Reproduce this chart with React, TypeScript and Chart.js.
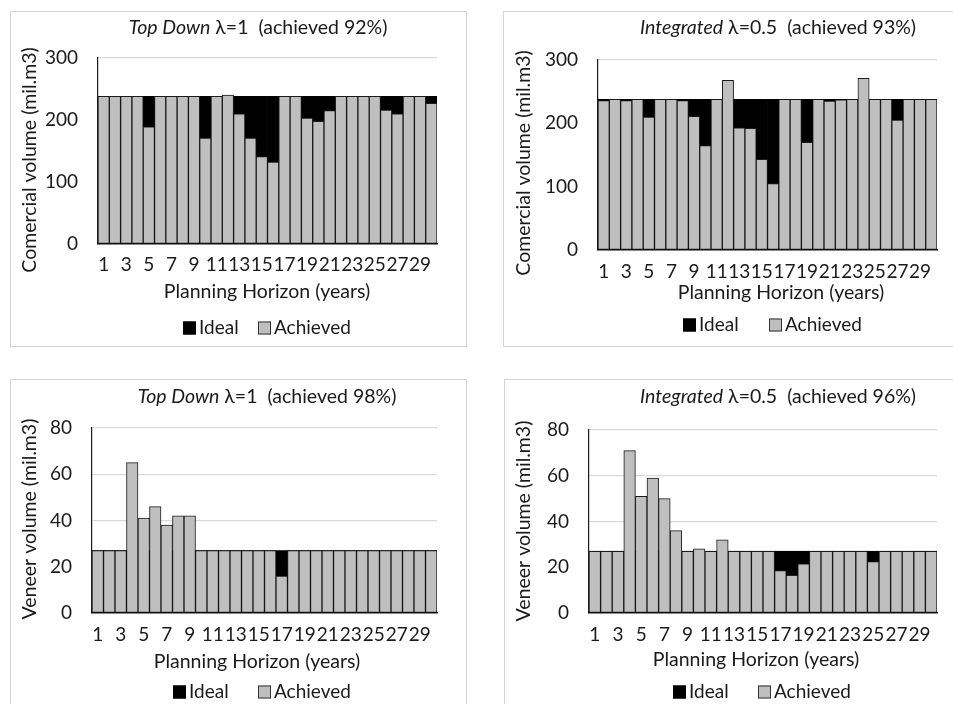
import React, { useEffect, useRef } from 'react';
import { Chart, registerables } from 'chart.js';

Chart.register(...registerables);

const years = ['1','2','3','4','5','6','7','8','9','10','11','12','13','14','15','16','17','18','19','20','21','22','23','24','25','26','27','28','29','30'];

const commercialTopDownIdeal = [238,238,238,238,238,238,238,238,238,238,238,238,238,238,238,238,238,238,238,238,238,238,238,238,238,238,238,238,238,238];
const commercialTopDownAchieved = [238,238,238,238,189,238,238,238,238,171,238,240,210,171,141,132,238,238,203,198,215,238,238,238,238,216,210,238,238,227];

const commercialIntegratedIdeal = [238,238,238,238,238,238,238,238,238,238,238,238,238,238,238,238,238,238,238,238,238,238,238,238,238,238,238,238,238,238];
const commercialIntegratedAchieved = [236,238,236,238,210,238,238,236,211,165,238,268,193,192,143,105,238,238,170,238,235,237,238,271,238,238,205,238,238,238];

const veneerTopDownIdeal = [27,27,27,27,27,27,27,27,27,27,27,27,27,27,27,27,27,27,27,27,27,27,27,27,27,27,27,27,27,27];
const veneerTopDownAchieved = [27,27,27,65,41,46,38,42,42,27,27,27,27,27,27,27,16,27,27,27,27,27,27,27,27,27,27,27,27,27];

const veneerIntegratedIdeal = [27,27,27,27,27,27,27,27,27,27,27,27,27,27,27,27,27,27,27,27,27,27,27,27,27,27,27,27,27,27];
const veneerIntegratedAchieved = [27,27,27,71,51,59,50,36,27,28,27,32,27,27,27,27,18.5,16.5,21.5,27,27,27,27,27,22.5,27,27,27,27,27];

const seriesNames = ['Ideal', 'Achieved'];
const FONT = 'Lato, "Open Sans", sans-serif';
const TEXT = '#1a1a1a';
const TITLE_SIZE = 19.5;
const AXIS_TITLE_SIZE = 19.5;
const LEGEND_SIZE = 19;
const TICK_SIZE = 19;

type Panel = {
  key: string;
  box: { x: number; y: number; w: number; h: number };
  canvas: { x: number; y: number; w: number; h: number };
  plot: { l: number; r: number; t: number; b: number };
  yMax: number;
  yStep: number;
  yTitle: string;
  titleItalic: string;
  titleRest: string;
  titleX: number;
  titleY: number;
  yTitleX: number;
  yTitleY: number;
  xTitleX: number;
  xTitleY: number;
  legendY: number;
  leg1X: number;
  leg2X: number;
  xTickPad: number;
  ideal: number[];
  achieved: number[];
};

const panels: Panel[] = [
  {
    key: 'tl',
    box: { x: 10, y: 11, w: 457, h: 336 },
    canvas: { x: 10, y: 11, w: 457, h: 336 },
    plot: { l: 98, r: 437, t: 58, b: 244 },
    yMax: 300, yStep: 100,
    yTitle: 'Comercial volume (mil.m3)',
    titleItalic: 'Top Down', titleRest: ' λ=1  (achieved 92%)',
    titleX: 258, titleY: 28,
    yTitleX: 30, yTitleY: 160,
    xTitleX: 267, xTitleY: 292,
    legendY: 328, leg1X: 183, leg2X: 258,
    xTickPad: 9,
    ideal: commercialTopDownIdeal, achieved: commercialTopDownAchieved,
  },
  {
    key: 'tr',
    box: { x: 503, y: 11, w: 470, h: 336 },
    canvas: { x: 503, y: 11, w: 450, h: 336 },
    plot: { l: 598, r: 937, t: 60, b: 250 },
    yMax: 300, yStep: 100,
    yTitle: 'Comercial volume (mil.m3)',
    titleItalic: 'Integrated', titleRest: ' λ=0.5  (achieved 93%)',
    titleX: 778, titleY: 28,
    yTitleX: 524, yTitleY: 163,
    xTitleX: 781, xTitleY: 293,
    legendY: 325, leg1X: 683, leg2X: 769,
    xTickPad: 10,
    ideal: commercialIntegratedIdeal, achieved: commercialIntegratedAchieved,
  },
  {
    key: 'bl',
    box: { x: 10, y: 379, w: 457, h: 360 },
    canvas: { x: 10, y: 379, w: 457, h: 325 },
    plot: { l: 92, r: 437, t: 428, b: 613 },
    yMax: 80, yStep: 20,
    yTitle: 'Veneer volume (mil.m3)',
    titleItalic: 'Top Down', titleRest: ' λ=1  (achieved 98%)',
    titleX: 267, titleY: 397,
    yTitleX: 30, yTitleY: 519,
    xTitleX: 257, xTitleY: 662,
    legendY: 692, leg1X: 173, leg2X: 258,
    xTickPad: 10,
    ideal: veneerTopDownIdeal, achieved: veneerTopDownAchieved,
  },
  {
    key: 'br',
    box: { x: 504, y: 379, w: 470, h: 360 },
    canvas: { x: 504, y: 379, w: 449, h: 325 },
    plot: { l: 589, r: 937, t: 430, b: 613 },
    yMax: 80, yStep: 20,
    yTitle: 'Veneer volume (mil.m3)',
    titleItalic: 'Integrated', titleRest: ' λ=0.5  (achieved 96%)',
    titleX: 778, titleY: 397,
    yTitleX: 524, yTitleY: 521,
    xTitleX: 756, xTitleY: 660,
    legendY: 692, leg1X: 673, leg2X: 758,
    xTickPad: 10,
    ideal: veneerIntegratedIdeal, achieved: veneerIntegratedAchieved,
  },
];

function ChartPanel({ p }: { p: Panel }) {
  const ref = useRef<HTMLCanvasElement | null>(null);
  useEffect(() => {
    if (!ref.current) return;
    const ox = p.canvas.x;
    const oy = p.canvas.y;
    const decor = {
      id: 'decor_' + p.key,
      afterDraw(chart: any) {
        const ctx = chart.ctx as CanvasRenderingContext2D;
        ctx.save();
        ctx.fillStyle = TEXT;
        ctx.textBaseline = 'middle';
        // title: italic part + normal part
        const fItal = 'italic ' + TITLE_SIZE + 'px ' + FONT;
        const fNorm = TITLE_SIZE + 'px ' + FONT;
        ctx.font = fItal;
        const w1 = ctx.measureText(p.titleItalic).width;
        ctx.font = fNorm;
        const w2 = ctx.measureText(p.titleRest).width;
        const tx = p.titleX - ox - (w1 + w2) / 2;
        ctx.textAlign = 'left';
        ctx.font = fItal;
        ctx.fillText(p.titleItalic, tx, p.titleY - oy);
        ctx.font = fNorm;
        ctx.fillText(p.titleRest, tx + w1, p.titleY - oy);
        // x axis title
        ctx.textAlign = 'center';
        ctx.font = AXIS_TITLE_SIZE + 'px ' + FONT;
        ctx.fillText('Planning Horizon (years)', p.xTitleX - ox, p.xTitleY - oy);
        // y axis title
        ctx.save();
        ctx.translate(p.yTitleX - ox, p.yTitleY - oy);
        ctx.rotate(-Math.PI / 2);
        ctx.fillText(p.yTitle, 0, 0);
        ctx.restore();
        // legend
        const sq = 13;
        const ly = p.legendY - oy;
        const items = [
          { x: p.leg1X - ox, fill: '#000000', stroke: '#000000', label: chart.data.datasets[0].label },
          { x: p.leg2X - ox, fill: '#bfbfbf', stroke: '#333333', label: chart.data.datasets[1].label },
        ];
        ctx.textAlign = 'left';
        ctx.font = LEGEND_SIZE + 'px ' + FONT;
        for (const it of items) {
          ctx.fillStyle = it.fill;
          ctx.fillRect(it.x, ly - sq / 2, sq, sq);
          ctx.strokeStyle = it.stroke;
          ctx.lineWidth = 1;
          ctx.strokeRect(it.x + 0.5, ly - sq / 2 + 0.5, sq - 1, sq - 1);
          ctx.fillStyle = TEXT;
          ctx.fillText(it.label, it.x + sq + 3, ly);
        }
        ctx.restore();
      },
    };

    const chart = new Chart(ref.current, {
      type: 'bar',
      data: {
        labels: years,
        datasets: [
          {
            label: seriesNames[0],
            data: p.ideal,
            backgroundColor: '#000000',
            borderColor: '#000000',
            borderWidth: 0,
            barPercentage: 1,
            categoryPercentage: 1,
            grouped: false,
            order: 1,
          },
          {
            label: seriesNames[1],
            data: p.achieved,
            backgroundColor: '#bfbfbf',
            borderColor: '#1a1a1a',
            borderWidth: 1,
            borderSkipped: false,
            barPercentage: 1,
            categoryPercentage: 1,
            grouped: false,
            order: 0,
          },
        ],
      },
      options: {
        animation: false,
        responsive: false,
        maintainAspectRatio: false,
        devicePixelRatio: 1,
        layout: {
          padding: {
            left: 0,
            right: p.canvas.x + p.canvas.w - p.plot.r,
            top: p.plot.t - p.canvas.y,
            bottom: 0,
          },
        },
        plugins: {
          legend: { display: false },
          title: { display: false },
          tooltip: { enabled: false },
        },
        scales: {
          x: {
            offset: true,
            grid: { display: false, drawTicks: false },
            border: { display: true, color: '#1a1a1a', width: 1.5 },
            ticks: {
              autoSkip: false,
              maxRotation: 0,
              minRotation: 0,
              padding: p.xTickPad,
              color: TEXT,
              font: { family: FONT, size: TICK_SIZE },
              callback: (_v: any, i: number) => (i % 2 === 0 ? years[i] : ''),
            },
            afterFit: (s: any) => {
              s.height = p.canvas.y + p.canvas.h - p.plot.b;
            },
          },
          y: {
            min: 0,
            max: p.yMax,
            grid: { color: '#d9d9d9', lineWidth: 1.2, drawTicks: false },
            border: { display: true, color: '#1a1a1a', width: 1.2 },
            ticks: {
              stepSize: p.yStep,
              padding: 20,
              color: TEXT,
              font: { family: FONT, size: TICK_SIZE },
            },
            afterFit: (s: any) => {
              s.width = p.plot.l - p.canvas.x;
            },
          },
        },
      },
      plugins: [decor],
    } as any);
    return () => chart.destroy();
  }, [p]);

  return (
    <>
      <div
        style={{
          position: 'absolute',
          left: p.box.x,
          top: p.box.y,
          width: p.box.w,
          height: p.box.h,
          border: '1px solid #d4d4d4',
          boxSizing: 'border-box',
        }}
      />
      <canvas
        ref={ref}
        width={p.canvas.w}
        height={p.canvas.h}
        style={{
          position: 'absolute',
          left: p.canvas.x,
          top: p.canvas.y,
          width: p.canvas.w,
          height: p.canvas.h,
        }}
      />
    </>
  );
}

export default function App() {
  return (
    <div
      style={{
        position: 'absolute',
        left: 0,
        top: 0,
        width: 953,
        height: 704,
        overflow: 'hidden',
        background: '#ffffff',
      }}
    >
      {panels.map((p) => (
        <ChartPanel key={p.key} p={p} />
      ))}
    </div>
  );
}
